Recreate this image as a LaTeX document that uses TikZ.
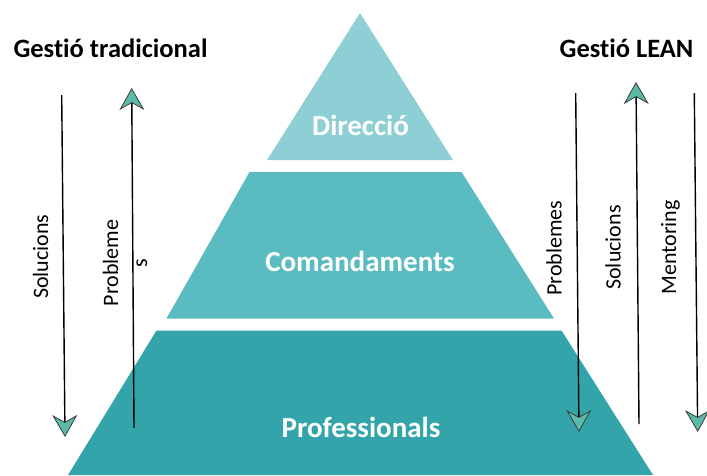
\documentclass[tikz,border=0pt]{standalone}
\usepackage{fontspec}
\setmainfont{Carlito}[Ligatures=NoCommon]
\usetikzlibrary{arrows.meta}
\definecolor{topc}{RGB}{142,207,214}
\definecolor{midc}{RGB}{90,188,192}
\definecolor{botc}{RGB}{51,165,170}
\definecolor{headc}{RGB}{92,187,168}
\definecolor{edgec}{RGB}{60,60,60}
\tikzset{
  laytext/.style={text=white,font=\fontsize{29}{34}\selectfont\bfseries,anchor=base,inner sep=0pt},
  header/.style={font=\fontsize{26.5}{30}\selectfont\bfseries,anchor=base,inner sep=0pt},
  side/.style={font=\fontsize{22}{29}\selectfont,rotate=90,anchor=base,inner sep=0pt},
  flow/.style={line width=1.4pt,-{Stealth[length=22pt,width=25pt,inset=7pt,fill=headc,color=edgec,line width=0.8pt]},draw=black},
}
\begin{document}
\begin{tikzpicture}[x=1pt,y=-1pt]
\useasboundingbox (0,0) rectangle (707,475);
% pyramid
\fill[topc] (360,13) -- (453,160) -- (267,160) -- cycle;
\fill[midc] (249.5,172) -- (461.5,172) -- (554,318.5) -- (166.5,318.5) -- cycle;
\fill[botc] (156.5,330.5) -- (561.5,330.5) -- (653,475) -- (68,475) -- cycle;
\node[laytext] (dir) at (360.5,135) {Direcció};
\node[laytext] (com) at (360,271.5) {Comandaments};
\node[laytext] (pro) at (361,437.5) {Professionals};
% headers
\node[header] (ht) at (110.5,57) {Gestió tradicional};
\node[header] (hl) at (626.5,57) {Gestió LEAN};
% left arrows
\coordinate (a1s) at (61.7,95);
\coordinate (a1e) at (65,437);
\coordinate (a2s) at (134,428);
\coordinate (a2e) at (131.7,88);
\draw[flow] (a1s) -- (a1e);
\draw[flow] (a2s) -- (a2e);
\node[side] (lsol) at (48,256.7) {Solucions};
\node[side,align=center,anchor=center] (lpro) at (125,263) {Probleme\\s};
% right arrows
\coordinate (b1s) at (575.7,93);
\coordinate (b1e) at (579,432);
\coordinate (b2s) at (639,424);
\coordinate (b2e) at (636,82);
\coordinate (b3s) at (694.3,93);
\coordinate (b3e) at (697.7,432);
\draw[flow] (b1s) -- (b1e);
\draw[flow] (b2s) -- (b2e);
\draw[flow] (b3s) -- (b3e);
\node[side] (rpro) at (561.7,248) {Problemes};
\node[side] (rsol) at (620.7,247.5) {Solucions};
\node[side] (rmen) at (676,247.5) {Mentoring};
\end{tikzpicture}
\end{document}
